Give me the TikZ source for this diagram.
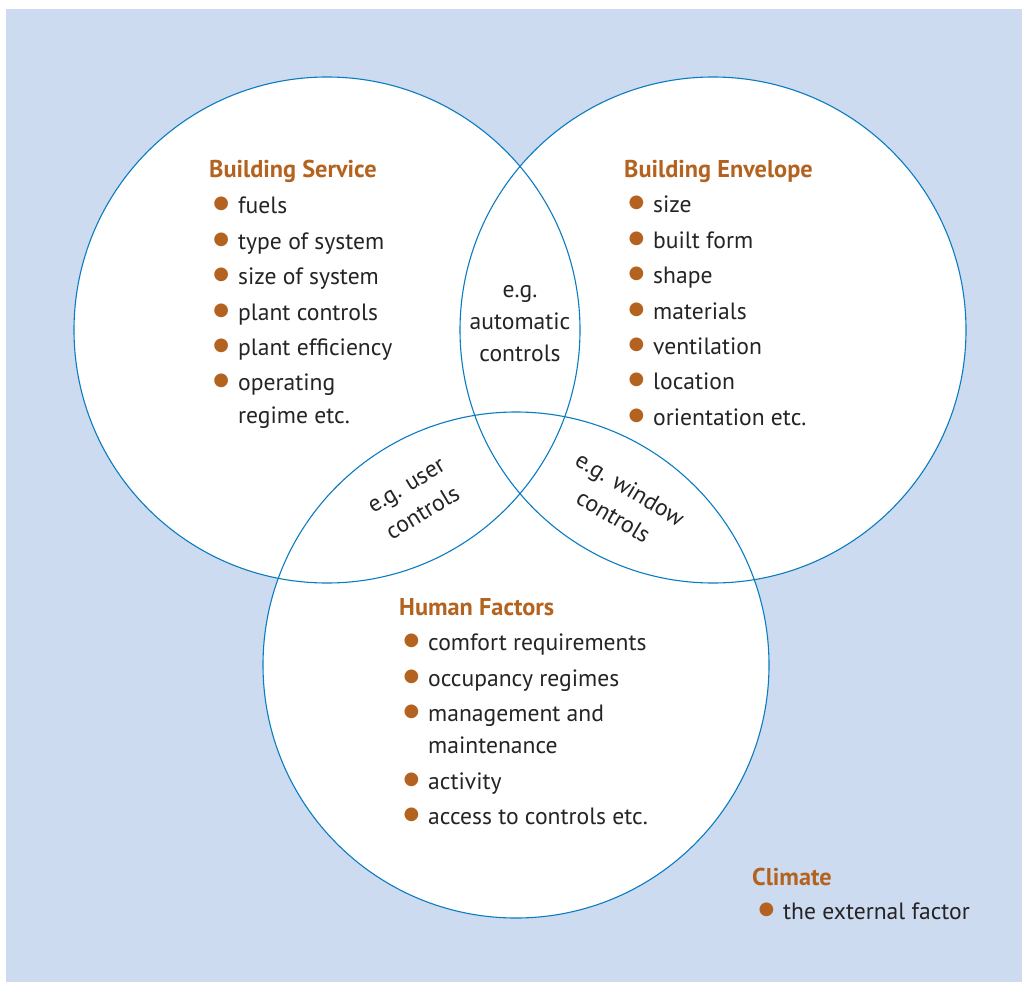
\documentclass[tikz,border=0pt]{standalone}
\usepackage{fontspec}
\setmainfont{PT Sans}
\newfontfamily\dotfont{DejaVu Sans}
\usetikzlibrary{positioning}
\definecolor{bgblue}{HTML}{CCDBF0}
\definecolor{ringblue}{HTML}{0A7CC1}
\definecolor{headbrown}{HTML}{B3631F}
\definecolor{txtgray}{HTML}{252324}
\newcommand{\bul}{\strut\llap{\raisebox{5pt}{\textcolor{headbrown}{\dotfont\fontsize{18}{18}\selectfont ●}}\hspace{9pt}}}
\tikzset{
    ring/.style={draw=ringblue,line width=1.1pt},
    head/.style={anchor=base west,inner sep=0pt,font=\fontsize{24.3}{35}\selectfont\bfseries,text=headbrown},
    itemlist/.style={anchor=north west,inner sep=0pt,align=left,font=\fontsize{23.6}{35.4}\selectfont,text=txtgray},
    overlap/.style={inner sep=0pt,align=center,font=\fontsize{23.6}{32}\selectfont,text=txtgray},
}
\begin{document}
\begin{tikzpicture}[x=1pt,y=-1pt]
\useasboundingbox (0,0) rectangle (1022,982);
\fill[bgblue] (6,9) rectangle (1022,982);
% circles
\coordinate (cService) at (327,330);
\coordinate (cEnvelope) at (713,330);
\coordinate (cHuman) at (516,665);
\foreach \c in {cService,cEnvelope,cHuman}
    \fill[white] (\c) circle (253);
\foreach \c in {cService,cEnvelope,cHuman}
    \draw[ring] (\c) circle (253);

% Building Service
\node[head] (serviceHead) at (209,177) {Building Service};
\node[itemlist] (serviceList) at (238,189) {\bul fuels\\ \bul type of system\\ \bul size of system\\ \bul plant controls\\ \bul plant efficiency\\ \bul operating\\[-3pt] \strut regime etc.};

% Building Envelope
\node[head] (envelopeHead) at (624,177) {Building Envelope};
\node[itemlist] (envelopeList) at (653,188) {\bul size\\ \bul built form\\ \bul shape\\ \bul materials\\ \bul ventilation\\ \bul location\\ \bul orientation etc.};

% Human Factors
\node[head] (humanHead) at (399,615) {Human Factors};
\node[itemlist] (humanList) at (428,626) {\bul comfort requirements\\ \bul occupancy regimes\\ \bul management and\\[-3.5pt] \strut maintenance\\ \bul activity\\ \bul access to controls etc.};

% Climate
\node[head] (climateHead) at (752,885) {Climate};
\node[itemlist] (climateList) at (783,895) {\bul the external factor};

% overlaps
\node[overlap,anchor=north] (autoCtrl) at (520,275) {\strut e.g.\\ automatic\\ controls\strut};
\node[overlap,rotate=31] (userCtrl) at (415,500) {\strut e.g. user\\ controls\strut};
\node[overlap,rotate=-31] (windowCtrl) at (621,504) {\strut e.g. window\\ controls\strut};
\end{tikzpicture}
\end{document}
